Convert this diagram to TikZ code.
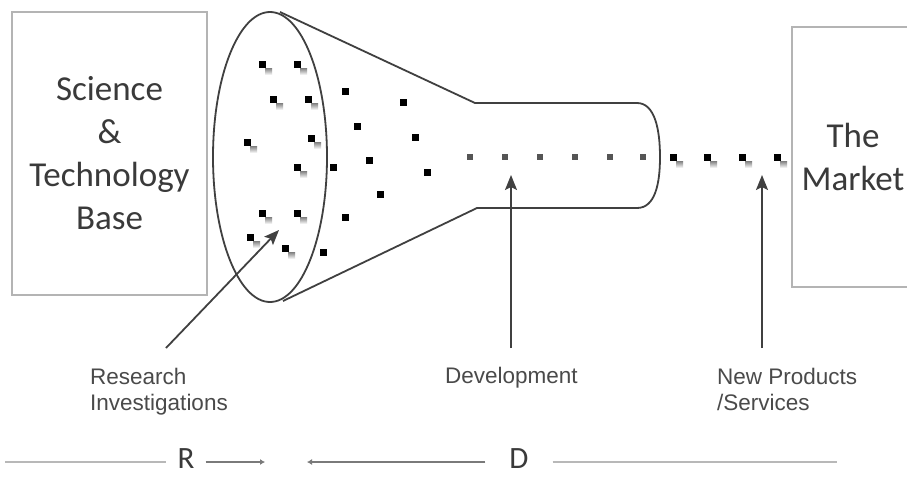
\documentclass[tikz,border=0pt]{standalone}
\usepackage{fontspec}
\setmainfont{Liberation Sans}
\newfontfamily\calibri{Carlito}
\usetikzlibrary{arrows.meta}
\definecolor{boxgray}{HTML}{B4B4B4}
\definecolor{outline}{HTML}{404040}
\definecolor{txtdark}{HTML}{3A3A3A}
\definecolor{lbl}{HTML}{4A4A4A}
\definecolor{devdot}{HTML}{555555}
\definecolor{shade}{HTML}{F0F0F0}
\definecolor{rdline}{HTML}{B8B8B8}
\definecolor{rdarrow}{HTML}{7A7A7A}
\begin{document}
\begin{tikzpicture}[x=1pt,y=-1pt,
  bigbox/.style={draw=boxgray, line width=1.8pt, inner sep=0, align=center,
    text=txtdark, font=\calibri\fontsize{35}{43}\selectfont},
  lbltext/.style={inner sep=0, anchor=north west, align=left, text=lbl,
    font=\fontsize{22.5}{26}\selectfont},
  rdtext/.style={inner ysep=0, text=txtdark, font=\calibri\fontsize{31}{34}\selectfont},
  funnel/.style={draw=outline, line width=1.8pt, line join=round},
  pointer/.style={draw=outline, line width=1.8pt,
    -{Stealth[length=15pt, width=12pt, inset=3pt]}},
  rdline/.style={draw=rdline, line width=2.2pt},
  rdarr/.style={draw=rdarrow, line width=2.2pt, -{Latex[length=5pt, width=6pt]}}
]
\clip (0,0) rectangle (907,477);
\fill[white] (0,0) rectangle (907,477);

% boxes
\node[bigbox, minimum width=195pt, minimum height=283pt] (sci) at (109.5,153.5)
  {Science\\\&\\Technology\\Base};
\node[bigbox, minimum width=122pt, minimum height=260pt] (mkt) at (853,156.7)
  {The\\Market};

% dots (shadows first)
\foreach \x/\y in {262/64,297/64,273/99,308/99,247/142,311/138,297/167,262/213,297/213,250/237,285/248,673/157,707/157,742/157,777/157}
  \fill[shade] (\x+3,\y+4) rectangle (\x+10,\y+11);
\foreach \x/\y in {262/64,297/64,273/99,308/99,247/142,311/138,297/167,262/213,297/213,250/237,285/248,
  345/91,403/102,357/126,415/137,333/167,369/160,427/172,380/194,345/217,323/252,
  673/157,707/157,742/157,777/157}
  \fill[black] (\x-3.5,\y-3.5) rectangle (\x+3.5,\y+3.5);
\foreach \x in {470,505,540,575,610,643}
  \fill[devdot] (\x-3.2,157-3.2) rectangle (\x+3.2,157+3.2);

% funnel
\draw[funnel] (270,157) ellipse [x radius=57, y radius=145];
\draw[funnel] (280,12) -- (475,103) -- (637,103)
  .. controls (655,103) and (660,130) .. (660,157)
  .. controls (660,184) and (655,208) .. (637,208)
  -- (477,208) -- (283,301);

% labels
\node[lbltext] (res) at (90,368) {Research\\Investigations};
\node[lbltext] (dev) at (445,367) {Development};
\node[lbltext] (newp) at (717,368) {New Products\\/Services};

% pointers
\coordinate (resTail) at (166,348);
\coordinate (resTip) at (279,230);
\coordinate (devTail) at (511,348);
\coordinate (devTip) at (511,175);
\coordinate (newTail) at (762,348);
\coordinate (newTip) at (762,175);
\draw[pointer] (resTail) -- (resTip);
\draw[pointer] (devTail) -- (devTip);
\draw[pointer] (newTail) -- (newTip);

% R and D
\node[rdtext, inner xsep=11pt] (R) at (186,459) {R};
\node[rdtext, inner xsep=24pt] (D) at (519,459) {D};
\coordinate (lineL) at (5,462);
\coordinate (lineR) at (837,462);
\coordinate (rTip) at (265,462);
\coordinate (dTip) at (307,462);
\draw[rdline] (lineL) -- (lineL -| R.west);
\draw[rdarr] (R.east |- rTip) -- (rTip);
\draw[rdarr] (D.west |- dTip) -- (dTip);
\draw[rdline] (D.east |- lineR) -- (lineR);
\end{tikzpicture}
\end{document}
